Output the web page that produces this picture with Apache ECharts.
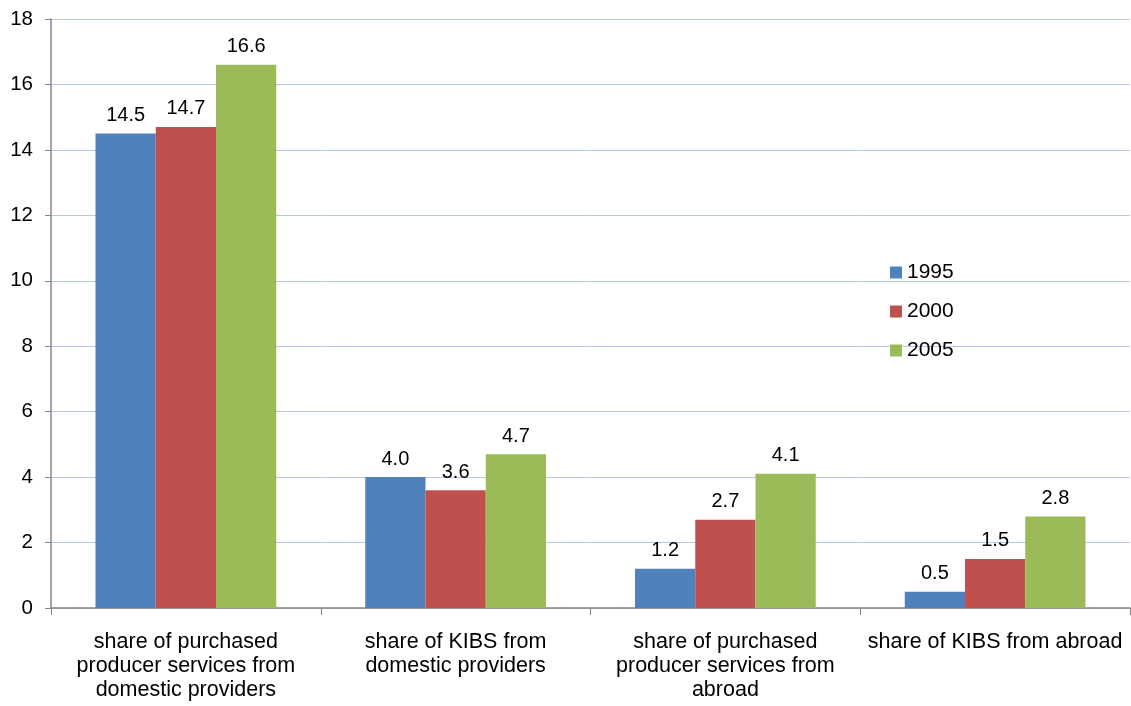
<!DOCTYPE html>
<html><head><meta charset="utf-8">
<script src="https://cdn.jsdelivr.net/npm/echarts@6/dist/echarts.min.js"></script>
<style>html,body{margin:0;padding:0;background:#fff}#c{width:1131px;height:706px}</style>
</head><body><div id="c"></div>
<script>
var categories = ["share of purchased\nproducer services from\ndomestic providers", "share of KIBS from\ndomestic providers", "share of purchased\nproducer services from\nabroad", "share of KIBS from abroad"];
var s1995 = [14.5, 4.0, 1.2, 0.5];
var s2000 = [14.7, 3.6, 2.7, 1.5];
var s2005 = [16.6, 4.7, 4.1, 2.8];
var seriesNames = ["1995", "2000", "2005"];
var colors = ["#4f81bd", "#c0504d", "#9bbb59"];

var font = "'Liberation Sans', Arial, sans-serif";
function mk(name, data, color) {
  return {
    name: name, type: 'bar', data: data, barGap: '0%', barCategoryGap: '33%',
    itemStyle: { color: color },
    label: { show: true, position: 'top', distance: 8, color: '#000', fontSize: 20, fontFamily: font,
      formatter: function (p) { return p.value.toFixed(1); } }
  };
}
var chart = echarts.init(document.getElementById('c'));
chart.setOption({
  animation: false,
  textStyle: { fontFamily: font },
  grid: { left: 51, right: 1, top: 19, bottom: 98 },
  legend: {
    orient: 'vertical', left: 885, top: 257, itemWidth: 12, itemHeight: 12, itemGap: 18,
    icon: 'rect', textStyle: { fontSize: 21, color: '#000', fontFamily: font },
    data: seriesNames
  },
  xAxis: {
    type: 'category', data: categories,
    axisLine: { lineStyle: { color: '#868686', width: 1.5 } },
    axisTick: { show: true, length: 7, lineStyle: { color: '#868686' } },
    axisLabel: { fontSize: 21.5, color: '#000', lineHeight: 24, margin: 22, interval: 0, fontFamily: font }
  },
  yAxis: {
    type: 'value', min: 0, max: 18, interval: 2,
    axisLine: { show: true, lineStyle: { color: '#868686', width: 1.5 } },
    axisTick: { show: true, length: 6, lineStyle: { color: '#868686' } },
    axisLabel: { fontSize: 20.5, color: '#000', margin: 18, fontFamily: font },
    splitLine: { lineStyle: { color: '#b8c8e4', width: 1 } }
  },
  series: [mk(seriesNames[0], s1995, colors[0]), mk(seriesNames[1], s2000, colors[1]), mk(seriesNames[2], s2005, colors[2])]
});
</script></body></html>
